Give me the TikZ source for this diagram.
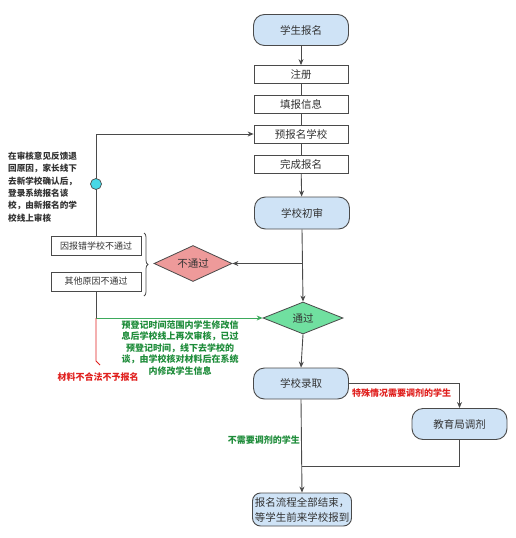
\documentclass[tikz,border=0pt]{standalone}
\usepackage{fontspec}
\setmainfont{Noto Sans CJK SC}
\usetikzlibrary{arrows.meta,decorations.pathreplacing,shapes.geometric}
\definecolor{lineclr}{HTML}{4A4A4A}
\definecolor{pillfill}{HTML}{CFE3F6}
\definecolor{faildia}{HTML}{EE9A9A}
\definecolor{passdia}{HTML}{70E0A0}
\definecolor{cyanclr}{HTML}{48D8E6}
\definecolor{greentxt}{HTML}{1E8C3A}
\definecolor{greenline}{HTML}{3DAA5C}
\definecolor{redtxt}{HTML}{E0201E}
\definecolor{txtclr}{HTML}{333333}
\tikzset{
  pill/.style={draw=lineclr, line width=0.9pt, fill=pillfill, rounded corners=11pt,
    minimum width=95pt, minimum height=31pt, inner sep=0pt, text=txtclr, font=\fontsize{10.5}{12}\selectfont},
  stepbox/.style={draw=lineclr, line width=0.8pt, fill=white, minimum width=94pt,
    minimum height=18pt, inner sep=0pt, text=txtclr, font=\fontsize{10.5}{12}\selectfont},
  sidebox/.style={draw=lineclr, line width=0.8pt, fill=white, minimum width=90pt,
    minimum height=19pt, inner sep=0pt, text=txtclr, font=\fontsize{9}{11}\selectfont},
  dia/.style={diamond, draw=lineclr, line width=0.8pt, aspect=2.2, inner sep=0pt,
    minimum width=79pt, minimum height=35pt, text=txtclr, font=\fontsize{10.5}{12}\selectfont},
  ln/.style={draw=lineclr, line width=0.9pt},
  arr/.style={ln, -{Stealth[length=6pt,width=5pt]}},
  garr/.style={draw=greenline, line width=0.9pt, -{Stealth[length=6pt,width=5pt]}},
  note/.style={font=\bfseries\fontsize{9}{11.5}\selectfont, inner sep=0pt, align=center}
}
\begin{document}
\begin{tikzpicture}[x=1pt, y=-1pt]
\useasboundingbox (0,0) rectangle (515,538);

% main column
\node[pill] (start) at (301,30) {学生报名};
\node[stepbox] (reg) at (301,74.5) {注册};
\node[stepbox] (info) at (301,104.5) {填报信息};
\node[stepbox] (pre) at (301,134) {预报名学校};
\node[stepbox] (done) at (301,164) {完成报名};
\node[pill, minimum height=32pt] (chk) at (302,213) {学校初审};
\node[dia, fill=faildia, minimum width=78pt, minimum height=36pt] (fail) at (193,263.5) {不通过};
\node[dia, fill=passdia, minimum width=80pt, minimum height=32pt] (pass) at (303,318) {通过};
\node[pill] (admit) at (301,383.5) {学校录取};
\node[pill, minimum height=31pt] (edu) at (459.5,424) {教育局调剂};
\node[draw=lineclr, line width=0.9pt, fill=pillfill, rounded corners=8pt, minimum width=99pt,
  minimum height=33pt, inner sep=0pt, align=center, text=txtclr,
  font=\fontsize{10.5}{15}\selectfont] (end) at (302,509.5) {报名流程全部结束，\\等学生前来学校报到};

% side boxes
\node[sidebox] (b1) at (96,246) {因报错学校不通过};
\node[sidebox] (b2) at (96,281.5) {其他原因不通过};

\coordinate (j1) at (302,263.5);
\coordinate (g1) at (96,318);
\coordinate (r1) at (96,361);
\coordinate (j2) at (302,466);

% connectors main column
\draw[arr] (start) -- (reg);
\draw[ln] (reg) -- (info);
\draw[ln] (info) -- (pre);
\draw[ln] (pre) -- (done);
\draw[arr] (done) -- (chk);
\draw[arr] (chk.south) -- (pass.north);
\draw[arr] (j1) -- (fail.east);
\draw[arr] (pass.south) -- (admit.north);
\draw[arr] (admit.east) -| (edu.north);
\draw[arr] (admit.south) -- (end.north);
\draw[ln] (edu.south) |- (j2);

% left feedback loop
\draw[arr] (b1.north) |- (pre.west);
\node[circle, draw=lineclr, line width=0.7pt, fill=cyanclr, minimum size=11pt, inner sep=0pt] (dot) at (96,184) {};

% brace
\draw[ln, line width=0.8pt, decorate, decoration={brace, amplitude=4pt}] (144,233) -- (144,296);

% bottom-left branches
\draw[ln] (b2.south) -- (g1);
\draw[garr] (g1) -- (pass.west);
\draw[draw=redtxt, line width=0.9pt] (g1) -- (r1) .. controls (97,363) and (99,363) .. (100,365);

% annotations
\node[note, text=txtclr, align=left, anchor=west, font=\bfseries\fontsize{8.6}{12.3}\selectfont] (n1) at (8,187)
  {在审核意见反馈退\\回原因，家长线下\\去新学校确认后，\\登录系统报名该\\校，由新报名的学\\校线上审核};
\node[note, text=greentxt] (n2) at (180,348)
  {预登记时间范围内学生修改信\\息后学校线上再次审核，已过\\预登记时间，线下去学校的\\谈，由学校核对材料后在系统\\内修改学生信息};
\node[note, text=redtxt] (n3) at (98,377) {材料不合法不予报名};
\node[note, text=redtxt, anchor=west] (n4) at (352,393) {特殊情况需要调剂的学生};
\node[note, text=greentxt, anchor=east] (n5) at (300,440) {不需要调剂的学生};
\end{tikzpicture}
\end{document}
